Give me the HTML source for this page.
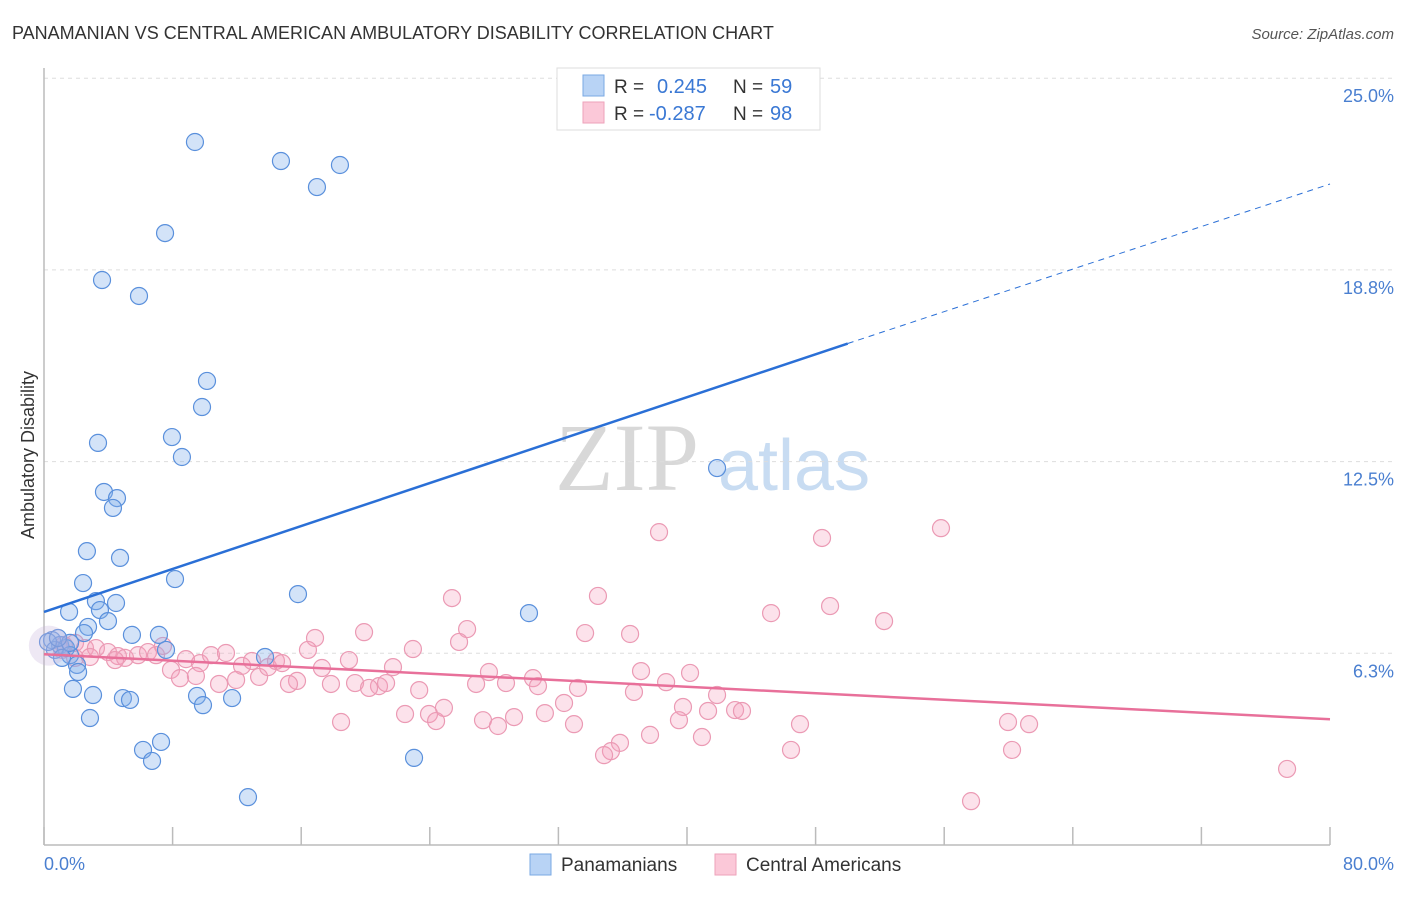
<!DOCTYPE html>
<html><head><meta charset="utf-8"><style>
body{margin:0;background:#fff;font-family:"Liberation Sans",sans-serif}
</style></head><body>
<svg id="c" width="1406" height="892" xmlns="http://www.w3.org/2000/svg" style="font-family:'Liberation Sans',sans-serif">
<text x="12" y="39" font-size="18" fill="#333">PANAMANIAN VS CENTRAL AMERICAN AMBULATORY DISABILITY CORRELATION CHART</text>
<text x="1394" y="39" font-size="15" fill="#555" font-style="italic" text-anchor="end">Source: ZipAtlas.com</text>
<text x="555" y="490" font-size="96" fill="#d8d8d8" font-family="Liberation Serif">ZIP</text>
<text x="718" y="490" font-size="72" fill="#c8dcf2">atlas</text>
<g id="grid"></g><g id="pts"></g><g id="lines"></g>
<text transform="translate(34,455) rotate(-90)" font-size="18" fill="#333" text-anchor="middle">Ambulatory Disability</text>
<text x="44" y="870" font-size="18" fill="#4a7fd0">0.0%</text>
<text x="1394" y="870" font-size="18" fill="#4a7fd0" text-anchor="end">80.0%</text>
<g>
<rect x="557" y="68" width="263" height="62" fill="#fff" stroke="#ddd"/>
<rect x="583" y="75" width="21" height="21" fill="#b8d3f5" stroke="#7aa8e3"/>
<rect x="583" y="102" width="21" height="21" fill="#fbc8d8" stroke="#eea2ba"/>
<text x="614" y="93" font-size="19" fill="#333">R = </text><text x="657" y="93" font-size="20" fill="#3a78d4">0.245</text>
<text x="733" y="93" font-size="19" fill="#333">N = </text><text x="770" y="93" font-size="20" fill="#3a78d4">59</text>
<text x="614" y="120" font-size="19" fill="#333">R = </text><text x="649" y="120" font-size="20" fill="#3a78d4">-0.287</text>
<text x="733" y="120" font-size="19" fill="#333">N = </text><text x="770" y="120" font-size="20" fill="#3a78d4">98</text>
</g>
<g>
<rect x="530" y="854" width="21" height="21" fill="#b8d3f5" stroke="#7aa8e3"/>
<text x="561" y="871" font-size="19" fill="#333">Panamanians</text>
<rect x="715" y="854" width="21" height="21" fill="#fbc8d8" stroke="#eea2ba"/>
<text x="746" y="871" font-size="19" fill="#333">Central Americans</text>
</g>
</svg>
<script>
const yTicks=[6.25,12.5,18.75,25];
const yTickLabels=["6.3%","12.5%","18.8%","25.0%"];
const blueX=[9.39,14.74,18.41,16.98,7.53,3.61,5.91,10.14,9.83,7.96,3.36,8.58,41.87,3.73,4.54,4.29,2.67,4.73,2.43,8.15,15.8,3.23,4.48,1.56,30.17,3.48,3.98,2.74,2.49,5.47,7.15,7.59,13.75,0.5,1.0,1.37,0.68,1.62,1.12,0.25,2.05,2.12,1.8,3.05,4.91,5.35,9.52,9.89,11.7,2.86,7.28,6.16,6.72,23.02,12.69,1.62,0.87];
const blueY=[22.92,22.3,22.17,21.45,19.95,18.42,17.9,15.13,14.28,13.3,13.11,12.65,12.29,11.51,11.31,10.99,9.58,9.36,8.54,8.67,8.18,7.95,7.89,7.6,7.56,7.66,7.3,7.11,6.91,6.85,6.85,6.36,6.13,6.68,6.52,6.42,6.36,6.19,6.1,6.62,5.87,5.64,5.09,4.89,4.79,4.73,4.86,4.56,4.79,4.14,3.36,3.1,2.74,2.84,1.56,6.59,6.75];
const pinkX=[38.26,48.4,55.8,25.38,34.46,45.23,48.9,52.26,26.32,33.66,36.46,19.91,16.86,25.82,22.95,16.42,37.14,40.19,27.68,30.42,18.97,21.71,17.29,28.74,26.88,30.73,38.7,19.35,20.84,21.28,20.22,17.85,15.74,15.24,33.22,23.34,36.7,41.87,32.35,31.16,24.88,22.46,23.95,24.39,29.24,27.31,28.24,32.97,18.48,39.75,39.5,41.31,42.99,43.42,47.03,59.97,61.28,40.93,37.7,35.83,35.27,34.84,46.47,60.22,77.33,57.67,1.24,1.93,2.55,3.23,2.86,3.98,4.6,5.04,4.42,5.85,6.47,6.97,7.4,7.9,8.46,8.83,9.7,9.45,10.39,11.32,10.89,11.95,12.32,12.94,13.38,13.94,14.43,14.81,1.12,1.93];
const pinkY=[10.2,10.01,10.33,8.05,8.12,7.56,7.79,7.3,7.04,6.91,6.88,6.94,6.75,6.62,6.39,6.36,5.67,5.61,5.64,5.44,6.03,5.8,5.77,5.28,5.25,5.18,5.31,5.28,5.18,5.28,5.12,5.25,5.35,5.25,5.12,5.05,4.99,4.89,4.63,4.3,4.47,4.27,4.27,4.04,4.17,4.07,3.88,3.94,4.01,4.5,4.07,4.37,4.4,4.37,3.94,4.01,3.94,3.52,3.59,3.33,3.06,2.93,3.1,3.1,2.48,1.43,6.52,6.59,6.42,6.42,6.13,6.29,6.16,6.1,6.03,6.19,6.29,6.19,6.49,5.71,5.44,6.06,5.93,5.51,6.19,6.26,5.25,5.38,5.84,6.0,5.48,5.8,6.0,5.93,6.36,6.1];
const blueLine=[7.6,16.35,21.55]; // at x=0, x=50, x=80
const pinkLine=[6.22,4.1];
const X=v=>44+v/80*1286, Y=v=>845-v/6.25*191.7;
const NS="http://www.w3.org/2000/svg";
function mk(t,a,p){const e=document.createElementNS(NS,t);for(const k in a)e.setAttribute(k,a[k]);p.appendChild(e);return e;}
const g=document.getElementById('grid');
yTicks.forEach((t,i)=>{
 const l=mk('line',{x1:44,x2:1394,y1:Y(t),y2:Y(t),stroke:'#ddd','stroke-dasharray':'4,4'},g);
 
 
 const tx=mk('text',{x:1394,y:Y(t)+24,'font-size':18,fill:'#4a7fd0','text-anchor':'end'},g);
 tx.textContent=yTickLabels[i];
 
 
});
const ax=mk('line',{x1:44,x2:44,y1:68,y2:845,stroke:'#bbb','stroke-width':1.5},g);


const bx=mk('line',{x1:44,x2:1330,y1:845,y2:845,stroke:'#bbb','stroke-width':1.5},g);


for(let i=0;i<=10;i++){const t=mk('line',{x1:X(i*8),x2:X(i*8),y1:827,y2:845,stroke:'#bbb','stroke-width':1.5},g);
 
 }
const p=document.getElementById('pts');
pinkX.forEach((x,i)=>{const c=mk('circle',{cx:X(x),cy:Y(pinkY[i]),r:8.5,fill:'rgba(244,160,188,0.3)',stroke:'#eb9ab4','stroke-width':1.2},p);
 
 });
blueX.forEach((x,i)=>{const c=mk('circle',{cx:X(x),cy:Y(blueY[i]),r:8.5,fill:'rgba(130,175,235,0.35)',stroke:'#5a90dc','stroke-width':1.2},p);
 
 });
const big=mk('circle',{cx:X(0.3),cy:Y(6.5),r:20,fill:'rgba(200,180,220,0.3)',stroke:'none'},p);


const L=document.getElementById('lines');
const b1=mk('line',{x1:X(0),y1:Y(blueLine[0]),x2:X(50),y2:Y(blueLine[1]),stroke:'#2a6fd6','stroke-width':2.5},L);


const b2=mk('line',{x1:X(50),y1:Y(blueLine[1]),x2:X(80),y2:Y(blueLine[2]),stroke:'#2a6fd6','stroke-width':1,'stroke-dasharray':'6,5'},L);


const p1=mk('line',{x1:X(0),y1:Y(pinkLine[0]),x2:X(80),y2:Y(pinkLine[1]),stroke:'#e8709a','stroke-width':2.5},L);


</script>
</body></html>
